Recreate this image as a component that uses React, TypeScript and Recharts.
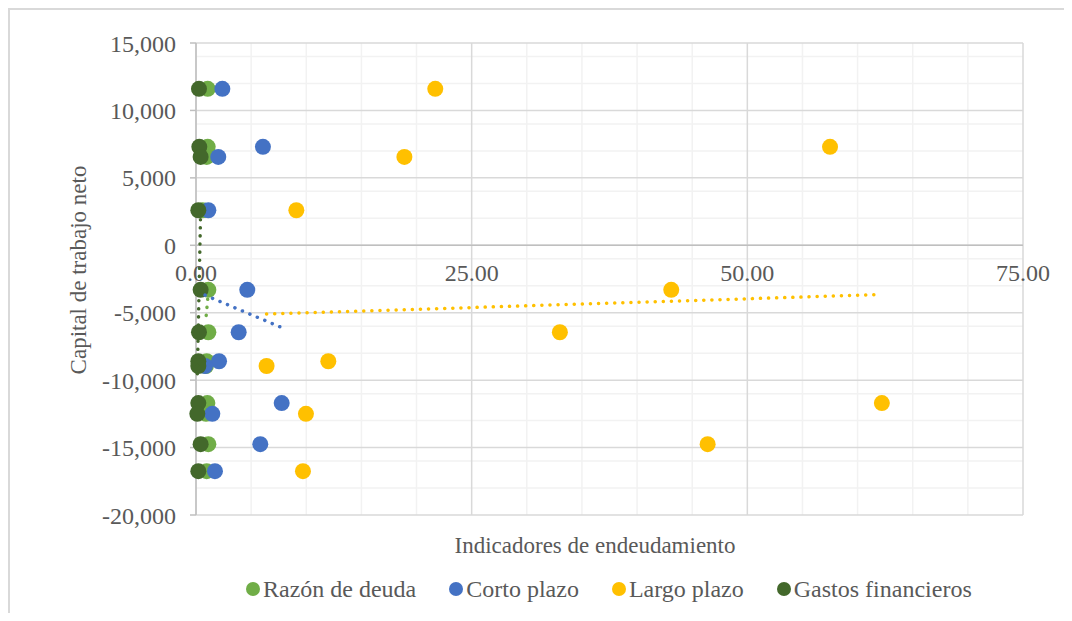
import React from 'react';
import { ScatterChart, Scatter, XAxis, YAxis, CartesianGrid, ReferenceLine } from 'recharts';

// Capital de trabajo neto (same rows for every indicator)
const capitalNeto = [11600, 7300, 6550, 2600, -3300, -6450, -8600, -8950, -11700, -12500, -14750, -16750];

const razonDeuda = [1.06, 1.06, 0.97, 0.6, 1.12, 1.12, 0.97, 0.9, 1.03, 0.91, 1.12, 0.97];
const cortoPlazo = [2.39, 6.07, 2.02, 1.12, 4.65, 3.87, 2.09, 0.82, 7.77, 1.48, 5.83, 1.72];
const largoPlazo = [21.7, 57.5, 18.9, 9.1, 43.1, 33.0, 12.0, 6.4, 62.2, 9.97, 46.4, 9.7];
const gastosFinancieros = [0.27, 0.3, 0.42, 0.21, 0.42, 0.27, 0.21, 0.21, 0.21, 0.12, 0.42, 0.21];

// linear trendline end points
const trendRazon = [{ x: 1.06, y: -4000 }, { x: 0.91, y: -5350 }];
const trendCorto = [{ x: 0.82, y: -3700 }, { x: 7.77, y: -6100 }];
const trendLargo = [{ x: 6.4, y: -5100 }, { x: 62.2, y: -3650 }];
const trendGastos = [{ x: 0.42, y: 2500 }, { x: 0.12, y: -9700 }];

const xTicks = [0, 25, 50, 75];
const yTicks = [-20000, -15000, -10000, -5000, 0, 5000, 10000, 15000];
const xMinor = [5, 10, 15, 20, 30, 35, 40, 45, 55, 60, 65, 70];
const yMinor = Array.from({ length: 36 }, (_, i) => -20000 + i * 1000).filter(v => v % 5000 !== 0);

const toPoints = (xs: number[]) => xs.map((x, i) => ({ x, y: capitalNeto[i] }));

const series = [
  { name: 'Razón de deuda', color: '#70AD47', data: toPoints(razonDeuda), trend: trendRazon },
  { name: 'Corto plazo', color: '#4472C4', data: toPoints(cortoPlazo), trend: trendCorto },
  { name: 'Largo plazo', color: '#FFC000', data: toPoints(largoPlazo), trend: trendLargo },
  { name: 'Gastos financieros', color: '#43682B', data: toPoints(gastosFinancieros), trend: trendGastos },
];

const FONT = '"Liberation Serif", "Times New Roman", serif';
const TEXT = '#595959';
const PLOT_TOP = 35;
const PLOT_H = 472;
const zeroY = PLOT_TOP + PLOT_H * (15000 / 35000);

const XTick = ({ x, payload }: any) => (
  <text x={x} y={zeroY + 28} textAnchor="middle" dominantBaseline="central" fill={TEXT} fontSize={24} fontFamily={FONT}>
    {payload.value.toFixed(2)}
  </text>
);

const noDot = () => <g />;

const App: React.FC = () => {
  return (
    <div style={{ position: 'relative', width: 1056, height: 605, fontFamily: FONT }}>
      <div style={{ position: 'absolute', left: 0, top: 0, right: 0, bottom: 0, borderLeft: '2px solid #d9d9d9', borderTop: '2px solid #d9d9d9' }} />
      <ScatterChart width={1056} height={605} margin={{ top: PLOT_TOP, right: 41, bottom: 48, left: 0 }} style={{ position: 'absolute', left: 0, top: 0 }}>
        <CartesianGrid stroke="#f2f2f2" strokeWidth={1.5} horizontalValues={yMinor} verticalValues={xMinor} />
        <CartesianGrid stroke="#d9d9d9" strokeWidth={1.5} horizontalValues={yTicks} verticalValues={xTicks} />
        <XAxis
          type="number"
          dataKey="x"
          domain={[0, 75]}
          ticks={xTicks}
          axisLine={false}
          tickLine={false}
          height={50}
          tick={<XTick />}
          label={{
            content: () => (
              <text x={587} y={537} textAnchor="middle" dominantBaseline="central" fill={TEXT} fontSize={23} fontFamily={FONT}>
                Indicadores de endeudamiento
              </text>
            ),
          }}
        />
        <YAxis
          type="number"
          dataKey="y"
          domain={[-20000, 15000]}
          ticks={yTicks}
          width={188}
          stroke="#bfbfbf"
          strokeWidth={1.5}
          tickSize={6}
          tickMargin={14}
          tick={{ fill: TEXT, fontSize: 24, fontFamily: FONT }}
          tickFormatter={(v: number) => v.toLocaleString('en-US')}
          label={{
            content: () => (
              <text x={70} y={262} transform="rotate(-90 70 262)" textAnchor="middle" dominantBaseline="central" fill={TEXT} fontSize={23} fontFamily={FONT}>
                Capital de trabajo neto
              </text>
            ),
          }}
        />
        <ReferenceLine y={0} stroke="#bfbfbf" strokeWidth={1.5} />
        {series.map(s => (
          <Scatter
            key={s.name}
            name={s.name}
            data={s.data}
            fill={s.color}
            shape={(p: any) => <circle cx={p.cx} cy={p.cy} r={8} fill={s.color} />}
            isAnimationActive={false}
          />
        ))}
        {series.map(s => (
          <Scatter
            key={s.name + '-trend'}
            data={s.trend}
            shape={noDot}
            legendType="none"
            line={{ stroke: s.color, strokeWidth: 3.5, strokeDasharray: '0.1 8', strokeLinecap: 'round' }}
            isAnimationActive={false}
          />
        ))}
      </ScatterChart>
      <div style={{ position: 'absolute', left: 238, top: 569, height: 24, display: 'flex', alignItems: 'center', fontSize: 24, color: TEXT, lineHeight: '24px' }}>
        {series.map(s => (
          <div key={s.name} style={{ display: 'flex', alignItems: 'center', marginRight: 33 }}>
            <span style={{ width: 14, height: 14, borderRadius: '50%', background: s.color, marginRight: 3 }} />
            <span>{s.name}</span>
          </div>
        ))}
      </div>
    </div>
  );
};

export default App;
